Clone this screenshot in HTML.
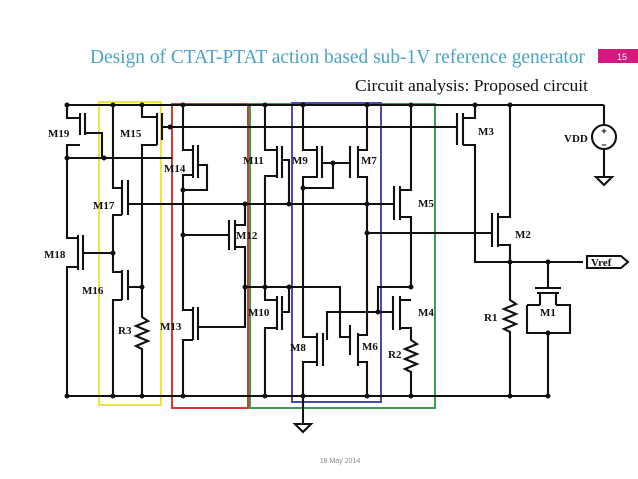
<!DOCTYPE html>
<html><head><meta charset="utf-8"><style>
html,body{margin:0;padding:0;background:#fff;width:638px;height:479px;overflow:hidden}
svg{display:block}
.t{font-family:"Liberation Serif",serif}
.w{stroke:#111;stroke-width:2.1;fill:none}
.l{font-family:"Liberation Serif",serif;font-weight:bold;font-size:11px;fill:#111}
</style></head><body>
<svg width="638" height="479" viewBox="0 0 638 479">
<text class="t" x="90" y="63" font-size="19.5" fill="#4ba3c6" textLength="495" lengthAdjust="spacingAndGlyphs">Design of CTAT-PTAT action based sub-1V reference generator</text>
<rect x="598" y="49" width="40" height="14" fill="#d6197e"/>
<text x="622" y="60" font-family="Liberation Sans,sans-serif" font-size="9" fill="#fff" text-anchor="middle">15</text>
<text class="t" x="355" y="91" font-size="17" fill="#111" textLength="233" lengthAdjust="spacingAndGlyphs">Circuit analysis: Proposed circuit</text>
<text x="340" y="463" font-family="Liberation Sans,sans-serif" font-size="7" fill="#888" text-anchor="middle">18 May 2014</text>

<rect x="99" y="102" width="62" height="303" fill="none" stroke="#eee53a" stroke-width="2"/>
<rect x="172" y="104" width="76" height="304" fill="none" stroke="#d23a3a" stroke-width="2"/>
<rect x="250" y="104" width="185" height="304" fill="none" stroke="#3aa050" stroke-width="2"/>
<rect x="292" y="103" width="89" height="299" fill="none" stroke="#4a4ab0" stroke-width="2"/>

<g class="w">
<path d="M66 105H604M66 396H548"/>
<path d="M67 105V118H80M80 145H67V238H78M80 113V135M85 113V135M85 133H102V158M67 158H172"/>
<path d="M78 235V270M83 235V270M83 253H113M78 267H67V396"/>
<path d="M113 105V188H122M122 180V215M128 180V215M128 204H393M122 215H113V272H122M122 270V300M128 270V300M128 287H142M122 300H113V396"/>
<path d="M142 105V117H157M157 113V145M162 113V140M162 127H457M157 145H142V317l6 4-12 5 12 5-12 5 12 5-12 5 6 3V396"/>
<path d="M183 105V150H193M193 145V178M198 145V178M198 165H207V190H183M193 175H183V310H193M183 235H229M193 307V340M198 307V340M198 327H245V287M193 340H183V396"/>
<path d="M229 220V250M235 220V250M235 225H245V204M235 247H245V287M245 287H340V337H350M350 325V355"/>
<path d="M265 105V150H277M277 146V178M282 146V178M282 160H289V204M277 176H265V300H277M277 296V330M282 296V330M282 312H289V287M277 328H265V396"/>
<path d="M303 105V150H317M317 146V178M322 146V178M322 163H350M333 163V188H303M350 146V178M358 146V178M358 150H367V105M317 177H303V337H317M358 177H367V335H358"/>
<path d="M317 333V366M323 333V366M327 340V312H393M317 362H303V425M358 333V366M358 362H367V396"/>
<path d="M411 105V190H400M400 186V220M394 186V220M400 217H411V287H378V312M400 296V330M393 296V330M400 300H411M400 328H411V340l6 4-12 5 12 5-12 5 12 5-12 5 6 3V396"/>
<path d="M367 233H492"/>
<path d="M457 113V145M463 113V145M463 118H475V105M463 145H475V262H583"/>
<path d="M510 105V217H498M498 213V247M492 213V247M498 245H510V300l6 4-12 5 12 5-12 5 12 5-12 5 6 3V396"/>
<path d="M548 262V288M535 288H561M537 293H559M540 293V305M556 293V305M527 305V333H570V305H556M540 305H527M548 333V396"/>
<path d="M604 105V125M604 150V177M596 177H612L604 185Z"/>
<circle cx="604" cy="137" r="12"/>
<path d="M295 424H311L303 432Z"/>
<path d="M587 256H621L628 262L621 268H587Z"/>
</g>
<text x="604" y="134" font-size="9" text-anchor="middle" font-family="Liberation Sans,sans-serif" font-weight="bold">+</text>
<text x="604" y="148" font-size="9" text-anchor="middle" font-family="Liberation Sans,sans-serif" font-weight="bold">−</text>

<g fill="#111">
<circle cx="67" cy="105" r="2.5"/><circle cx="113" cy="105" r="2.5"/><circle cx="142" cy="105" r="2.5"/><circle cx="183" cy="105" r="2.5"/><circle cx="265" cy="105" r="2.5"/><circle cx="303" cy="105" r="2.5"/><circle cx="367" cy="105" r="2.5"/><circle cx="411" cy="105" r="2.5"/><circle cx="475" cy="105" r="2.5"/><circle cx="510" cy="105" r="2.5"/>
<circle cx="67" cy="158" r="2.5"/><circle cx="104" cy="158" r="2.5"/><circle cx="170" cy="127" r="2.5"/>
<circle cx="113" cy="253" r="2.5"/><circle cx="142" cy="287" r="2.5"/><circle cx="183" cy="190" r="2.5"/><circle cx="183" cy="235" r="2.5"/>
<circle cx="245" cy="204" r="2.5"/><circle cx="245" cy="287" r="2.5"/><circle cx="289" cy="204" r="2.5"/><circle cx="265" cy="287" r="2.5"/><circle cx="289" cy="287" r="2.5"/>
<circle cx="333" cy="163" r="2.5"/><circle cx="303" cy="188" r="2.5"/><circle cx="367" cy="204" r="2.5"/><circle cx="367" cy="233" r="2.5"/>
<circle cx="411" cy="287" r="2.5"/><circle cx="378" cy="312" r="2.5"/><circle cx="510" cy="262" r="2.5"/><circle cx="548" cy="262" r="2.5"/><circle cx="548" cy="333" r="2.5"/>
<circle cx="67" cy="396" r="2.5"/><circle cx="113" cy="396" r="2.5"/><circle cx="142" cy="396" r="2.5"/><circle cx="183" cy="396" r="2.5"/><circle cx="265" cy="396" r="2.5"/><circle cx="303" cy="396" r="2.5"/><circle cx="367" cy="396" r="2.5"/><circle cx="411" cy="396" r="2.5"/><circle cx="510" cy="396" r="2.5"/><circle cx="548" cy="396" r="2.5"/>
</g>

<text class="l" x="48" y="137">M19</text>
<text class="l" x="120" y="137">M15</text>
<text class="l" x="164" y="172">M14</text>
<text class="l" x="93" y="209">M17</text>
<text class="l" x="44" y="258">M18</text>
<text class="l" x="236" y="239">M12</text>
<text class="l" x="82" y="294">M16</text>
<text class="l" x="118" y="334">R3</text>
<text class="l" x="160" y="330">M13</text>
<text class="l" x="243" y="164">M11</text>
<text class="l" x="248" y="316">M10</text>
<text class="l" x="290" y="351">M8</text>
<text class="l" x="292" y="164">M9</text>
<text class="l" x="361" y="164">M7</text>
<text class="l" x="418" y="207">M5</text>
<text class="l" x="418" y="316">M4</text>
<text class="l" x="362" y="350">M6</text>
<text class="l" x="388" y="358">R2</text>
<text class="l" x="478" y="135">M3</text>
<text class="l" x="515" y="238">M2</text>
<text class="l" x="484" y="321">R1</text>
<text class="l" x="540" y="316">M1</text>
<text class="l" x="564" y="142">VDD</text>
<text class="l" x="591" y="266">Vref</text>
</svg>
</body></html>
